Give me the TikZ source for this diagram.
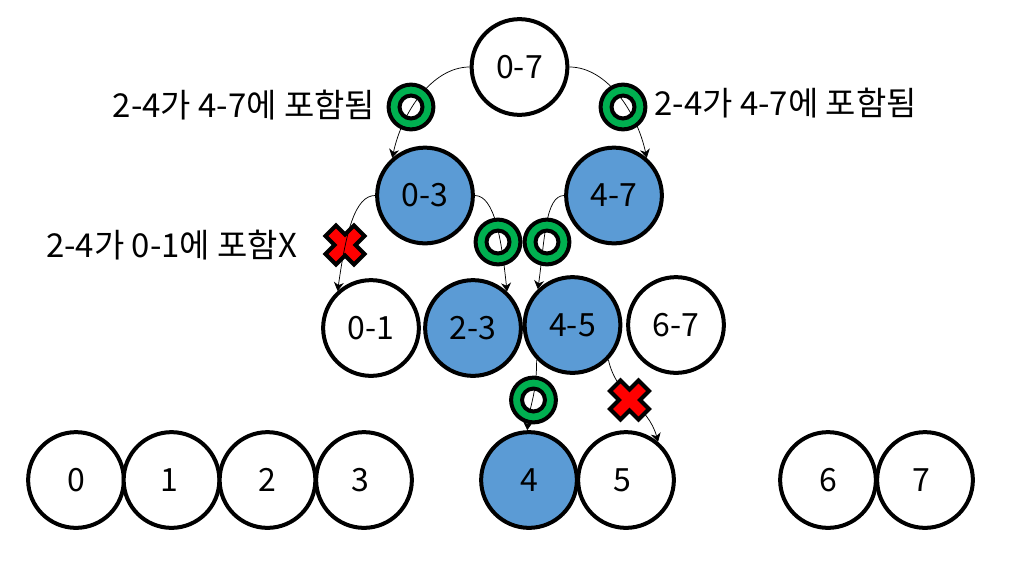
\documentclass[tikz,border=0pt]{standalone}
\usepackage{fontspec}
\setmainfont{Noto Sans CJK KR}
\usetikzlibrary{arrows.meta}
\definecolor{nodeblue}{HTML}{5B9BD5}
\definecolor{ringgreen}{HTML}{00B050}
\tikzset{
  treenode/.style={circle,draw=black,line width=3pt,fill=white,minimum size=71.8pt,inner sep=0pt,font=\fontsize{24}{28}\selectfont},
  hit/.style={treenode,fill=nodeblue},
  link/.style={line width=0.55pt,-{Stealth[length=6.5pt,width=7.5pt]}},
  lab/.style={inner sep=0pt,anchor=center,font=\fontsize{24.7}{29}\selectfont},
  ringmark/.style={draw=black,line width=3pt,fill=ringgreen,even odd rule},
  crossmark/.style={draw=black,line width=3pt,fill=red,miter limit=10},
}
\newcommand{\ringat}[2]{\path[ringmark] (#1,#2) circle[radius=16.8pt] (#1,#2) circle[radius=8.6pt];}
\newcommand{\crossat}[2]{\path[crossmark,shift={(#1,#2)}] (0,-10.5)--(9,-19.5)--(19.5,-9)--(10.5,0)--(19.5,9)--(9,19.5)--(0,10.5)--(-9,19.5)--(-19.5,9)--(-10.5,0)--(-19.5,-9)--(-9,-19.5)--cycle;}
\begin{document}
\begin{tikzpicture}[x=0.75pt,y=-0.75pt]
\useasboundingbox (0,0) rectangle (1024,565);
\node[treenode] (n07) at (519.5,67) {0-7};
\node[hit] (n03) at (425,195.5) {0-3};
\node[hit] (n47) at (614,195.5) {4-7};
\node[treenode] (n01) at (371,328) {0-1};
\node[hit] (n23) at (473,328) {2-3};
\node[hit] (n45) at (572.5,325) {4-5};
\node[treenode] (n67) at (676,325) {6-7};
\node[treenode] (l0) at (76,480) {0};
\node[treenode] (l1) at (171.5,480) {\kern-3.75pt 1};
\node[treenode] (l2) at (267.5,480) {2};
\node[treenode] (l3) at (364,480) {\kern-6pt 3};
\node[hit] (l4) at (529,480) {4};
\node[treenode] (l5) at (626,480) {\kern-6pt 5};
\node[treenode] (l6) at (828,480) {6};
\node[treenode] (l7) at (925,480) {\kern-6pt 7};
\crossat{345}{245}
\draw[link] (n07.west) to[out=180,in=78,out looseness=0.8,in looseness=1] (n03.131);
\draw[link] (n07.east) to[out=0,in=102,out looseness=0.8,in looseness=1] (n47.49);
\draw[link] (n03.west) to[out=180,in=82,out looseness=0.5,in looseness=1.5] (n01.132);
\draw[link] (n03.east) to[out=0,in=96,out looseness=0.5,in looseness=1.3] (n23.47);
\draw[link] (n47.west) to[out=180,in=82,out looseness=0.5,in looseness=1.3] (n45.134);
\draw[link] (n45.224) to[out=-90,in=85,out looseness=1.3,in looseness=0.9] (l4.92);
\draw[link] (n45.-44) to[out=-78,in=105] (l5.50);
\ringat{411}{107}
\ringat{623}{107}
\ringat{498}{242}
\ringat{547}{242}
\ringat{533.5}{400}
\crossat{629.5}{400}
\node[lab] (t1) at (244,105) {2-4가 4-7에 포함됨};
\node[lab] (t2) at (785.5,103) {2-4가 4-7에 포함됨};
\node[lab] (t3) at (171.5,245.5) {2-4가 0-1에 포함X};
\end{tikzpicture}
\end{document}
